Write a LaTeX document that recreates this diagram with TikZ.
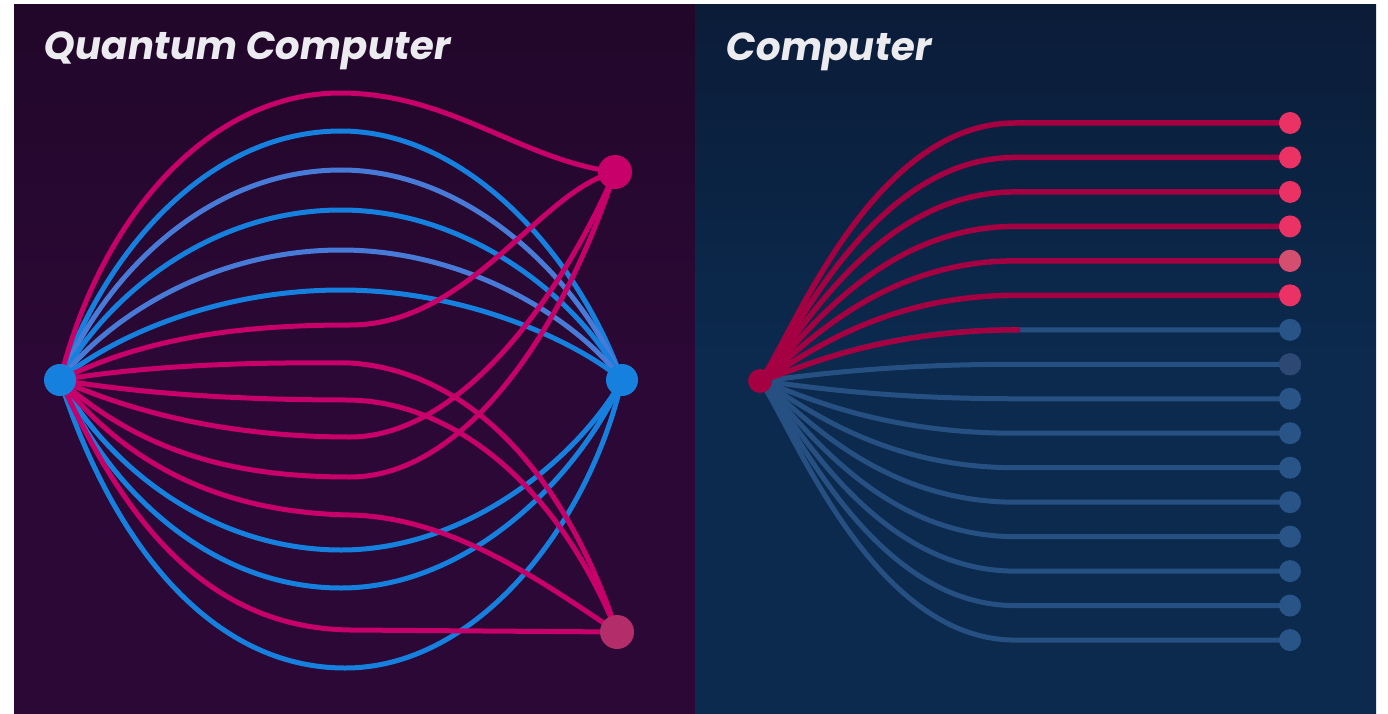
\documentclass[tikz,border=0pt]{standalone}
\usepackage{fontspec}
\newfontfamily\titlefont{Poppins}[FakeSlant=0.16]
\pgfdeclarelayer{back}
\pgfdeclarelayer{wires}
\pgfsetlayers{back,wires,main}

\definecolor{qbgtop}{RGB}{34,7,42}
\definecolor{qbg}{RGB}{43,8,53}
\definecolor{cbgtop}{RGB}{11,28,56}
\definecolor{cbg}{RGB}{11,42,78}
\definecolor{qpink}{RGB}{200,0,105}
\definecolor{qblue}{RGB}{22,128,222}
\definecolor{qlav}{RGB}{72,122,215}
\definecolor{qmute}{RGB}{178,45,105}
\definecolor{cred}{RGB}{165,0,65}
\definecolor{cdot}{RGB}{235,50,100}
\definecolor{cdotm}{RGB}{212,78,112}
\definecolor{cline}{RGB}{38,80,130}
\definecolor{cdotb}{RGB}{40,84,135}
\definecolor{cdotd}{RGB}{45,72,115}
\definecolor{titlecol}{RGB}{236,236,240}

\tikzset{
  hub/.style={circle, inner sep=0pt, minimum size=#1},
  qwire/.style={line width=5pt, line cap=round},
  cwire/.style={line width=5.5pt, line cap=round},
  heading/.style={anchor=base west, text=titlecol, font=\titlefont\bfseries\fontsize{39}{39}\selectfont}
}

\begin{document}
\begin{tikzpicture}[x=1pt, y=-1pt]
\useasboundingbox (0,0) rectangle (1388,714);

% panels
\begin{pgfonlayer}{back}
  \fill[white] (0,0) rectangle (1388,714);
  \shade[top color=qbgtop, bottom color=qbg, middle color=qbg] (14,5) rectangle (695,714);
  \shade[top color=cbgtop, bottom color=cbg, middle color=cbg] (695,5) rectangle (1376,714);
\end{pgfonlayer}

% titles
\node[heading] (qtitle) at (39,60) {Quantum Computer};
\node[heading] (ctitle) at (721,61) {Computer};

% ---------- quantum side ----------
\node[hub=32pt, fill=qblue] (L) at (60,380) {};
\node[hub=34pt, fill=qpink] (T) at (615,172) {};
\node[hub=32pt, fill=qblue] (M) at (622,380) {};
\node[hub=34pt, fill=qmute] (B) at (617,632) {};

\begin{pgfonlayer}{wires}
  % arches into the middle hub
  \draw[qwire, qblue] (L.center) .. controls (110,240) and (215,131) .. (341,131) .. controls (470,131) and (580,260) .. (M.center);
  \draw[qwire, qlav]  (L.center) .. controls (110,265) and (215,170) .. (341,170) .. controls (470,170) and (580,280) .. (M.center);
  \draw[qwire, qblue] (L.center) .. controls (110,290) and (215,210) .. (341,210) .. controls (470,210) and (580,300) .. (M.center);
  \draw[qwire, qlav]  (L.center) .. controls (110,315) and (215,250) .. (341,250) .. controls (470,250) and (580,322) .. (M.center);
  \draw[qwire, qblue] (L.center) .. controls (110,338) and (215,290) .. (341,290) .. controls (470,290) and (580,344) .. (M.center);
  \draw[qwire, qblue] (L.center) .. controls (110,470) and (215,550) .. (341,550) .. controls (470,550) and (580,455) .. (M.center);
  \draw[qwire, qblue] (L.center) .. controls (110,495) and (215,588) .. (341,588) .. controls (470,588) and (580,475) .. (M.center);
  \draw[qwire, qblue] (L.center) .. controls (115,550) and (215,668) .. (345,668) .. controls (480,668) and (590,520) .. (M.center);

  % into the top hub
  \draw[qwire, qpink] (L.center) .. controls (102,212) and (212,93) .. (340,93) .. controls (450,93) and (520,160) .. (T.center);
  \draw[qwire, qpink] (L.center) .. controls (150,335) and (250,325) .. (350,325) .. controls (470,325) and (540,190) .. (T.center);
  \draw[qwire, qpink] (L.center) .. controls (150,420) and (250,437) .. (350,437) .. controls (450,437) and (550,320) .. (T.center);
  \draw[qwire, qpink] (L.center) .. controls (150,460) and (250,477) .. (350,477) .. controls (460,477) and (560,340) .. (T.center);

  % into the bottom hub
  \draw[qwire, qpink] (L.center) .. controls (150,365) and (250,362) .. (350,363) .. controls (460,370) and (560,460) .. (B.center);
  \draw[qwire, qpink] (L.center) .. controls (150,395) and (250,400) .. (350,400) .. controls (450,402) and (555,480) .. (B.center);
  \draw[qwire, qpink] (L.center) .. controls (130,470) and (230,513) .. (350,515) .. controls (450,517) and (540,580) .. (B.center);
  \draw[qwire, qpink] (L.center) .. controls (120,510) and (200,628) .. (350,630) -- (B.center);
\end{pgfonlayer}

% ---------- classical side ----------
\node[hub=24pt, fill=cred] (S) at (760,381) {};
\foreach \i in {1,...,16}{
  \pgfmathsetmacro{\yy}{123+(\i-1)*34.47}
  \ifnum\i<7
    \node[hub=22pt, fill=cdot] (d\i) at (1290,\yy) {};
  \else
    \node[hub=22pt, fill=cdotb] (d\i) at (1290,\yy) {};
  \fi
}
\node[hub=22pt, fill=cdotm] at (d5) {};
\node[hub=22pt, fill=cdotd] at (d8) {};

\begin{pgfonlayer}{wires}
  \foreach \i in {1,...,16}{
    \pgfmathsetmacro{\yy}{123+(\i-1)*34.47}
    \pgfmathsetmacro{\cc}{381+0.15*(\yy-381)}
    \ifnum\i<7
      \draw[cwire, cred] (S.center) .. controls (790,\cc) and (870,\yy) .. (1015,\yy) -- (d\i.center);
    \else
      \draw[cwire, cline, line width=5pt] (S.center) .. controls (790,\cc) and (870,\yy) .. (1015,\yy) -- (d\i.center);
    \fi
  }
  % the seventh wire is only partly lit
  \draw[cwire, cred, line cap=butt] (S.center) .. controls (790,{381+0.15*(329.82-381)}) and (870,329.82) .. (1020,329.82);
\end{pgfonlayer}
\end{tikzpicture}
\end{document}
